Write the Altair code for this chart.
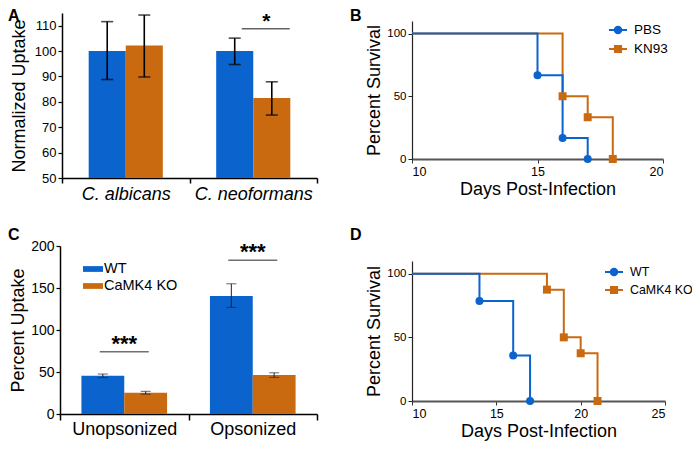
import altair as alt
import pandas as pd

FONT = "Liberation Sans"
BLUE = "#0B63CE"
ORANGE = "#C96A10"
W, H = 684, 433

# ---------------- Panel A: normalized uptake ----------------
a_species = ["C. albicans", "C. albicans", "C. neoformans", "C. neoformans"]
a_treat = ["PBS", "KN93", "PBS", "KN93"]
a_mean = [100.0, 102.2, 100.0, 81.5]
a_low = [88.8, 89.8, 94.7, 74.8]
a_high = [111.6, 114.2, 105.1, 87.9]
a_sig_species = ["C. neoformans"]
a_sig_y = [108.8]
a_sig_text = ["*"]

# ---------------- Panel B: survival, PBS vs KN93 ----------------
b_pbs_day = [10, 15, 16, 17]
b_pbs_surv = [100, 66.7, 16.7, 0]
b_kn_day = [10, 16, 17, 18]
b_kn_surv = [100, 50, 33.3, 0]

# ---------------- Panel C: percent uptake ----------------
c_cond = ["Unopsonized", "Unopsonized", "Opsonized", "Opsonized"]
c_geno = ["WT", "CaMK4 KO", "WT", "CaMK4 KO"]
c_mean = [45.5, 25.3, 140.5, 46.3]
c_low = [43.3, 23.6, 127.0, 43.6]
c_high = [47.6, 27.0, 155.0, 49.0]
c_sig_cond = ["Unopsonized", "Opsonized"]
c_sig_y = [74.0, 183.0]
c_sig_text = ["***", "***"]

# ---------------- Panel D: survival, WT vs CaMK4 KO ----------------
d_wt_day = [10, 14, 16, 17]
d_wt_surv = [100, 78.6, 35.7, 0]
d_ko_day = [10, 18, 19, 20, 21]
d_ko_surv = [100, 87.5, 50, 37.5, 0]

CIRC_LINE = "M-1,0H1M-0.36,0A0.36,0.36,0,1,1,0.36,0A0.36,0.36,0,1,1,-0.36,0Z"
SQ_LINE = "M-1,0H1M-0.34,-0.34H0.34V0.34H-0.34Z"
RECT = "M-1.25,-0.36H1.25V0.36H-1.25Z"


def letter(t, x, y):
    return alt.Chart(pd.DataFrame({"t": [t]})).mark_text(
        align="left", baseline="top", fontSize=16, fontWeight="bold", font=FONT, color="black"
    ).encode(text="t:N", x=alt.value(x), y=alt.value(y))


def survival_panel(df, groups, colors, shapes, sx, ax, sy, ay, leg, label, lx, ly):
    X = alt.X("day:Q", scale=sx, axis=ax)
    Y = alt.Y("surv:Q", scale=sy, axis=ay)
    layers = []
    # draw the second group first so the first one sits on top (as in the reference)
    for g, c in reversed(list(zip(groups, colors))):
        layers.append(alt.Chart(df).transform_filter(f"datum.group == '{g}'").mark_line(
            interpolate="step-after", strokeWidth=2, color=c).encode(x=X, y=Y))
    for g, c, s in zip(groups, colors, shapes):
        layers.append(alt.Chart(df).transform_filter(
            f"datum.day > 10 && datum.group == '{g}'").mark_point(
            filled=True, size=64, opacity=1, shape=s, color=c).encode(x=X, y=Y))
    key = alt.Chart(df).transform_filter("datum.day > 10").mark_point(filled=True, opacity=0, size=1).encode(
        x=X, y=Y,
        fill=alt.Fill("group:N", scale=alt.Scale(domain=groups, range=colors), legend=leg),
        stroke=alt.Stroke("group:N", scale=alt.Scale(domain=groups, range=colors), legend=leg),
        shape=alt.Shape("group:N", scale=alt.Scale(domain=groups, range=[CIRC_LINE, SQ_LINE]), legend=leg))
    return alt.layer(*layers, key, letter(label, lx, ly))


# ======== Panel A ========
dfA = pd.DataFrame({"species": a_species, "treat": a_treat, "mean": a_mean,
                    "low": a_low, "high": a_high})
sigA = pd.DataFrame({"species": a_sig_species, "y": a_sig_y, "t": a_sig_text})
sxA = alt.Scale(domain=["C. albicans", "C. neoformans"], range=[54, 309], paddingInner=0, paddingOuter=0)
axA = alt.Axis(orient="bottom", offset=-(H - 170), tickBand="extent", labelFontStyle="italic",
               labelFontSize=18, labelAngle=0, tickSize=5, labelPadding=2, title=None,
               domainColor="black", tickColor="black", labelColor="black", domainWidth=1.5,
               tickWidth=1.5, grid=False)
soA = alt.Scale(domain=["PBS", "KN93"], paddingInner=0, paddingOuter=0.72)
syA = alt.Scale(domain=[50, 115], range=[170, 5], zero=False, nice=False)
ayA = alt.Axis(orient="left", offset=-54, values=[50, 60, 70, 80, 90, 100, 110], title="Normalized Uptake",
               titleFontSize=18, titleFontWeight="normal", titleColor="black", labelFontSize=13,
               labelColor="black", tickSize=4, labelPadding=2, titlePadding=6, domainColor="black",
               tickColor="black", domainWidth=1.5, tickWidth=1.2, grid=False)

XA = alt.X("species:N", scale=sxA, axis=axA)
XOA = alt.XOffset("treat:N", scale=soA)
baseA = alt.Chart(dfA)
barsA = baseA.mark_bar().encode(
    x=XA, xOffset=XOA, y=alt.Y("mean:Q", scale=syA, axis=ayA), y2=alt.datum(50),
    color=alt.Color("treat:N", scale=alt.Scale(domain=["PBS", "KN93"], range=[BLUE, ORANGE]), legend=None))
errA = baseA.mark_rule(color="black", strokeWidth=1.6).encode(
    x=XA, xOffset=XOA, y=alt.Y("low:Q", scale=syA, axis=ayA), y2="high:Q")
capHA = baseA.mark_tick(color="black", size=12, thickness=1.6).encode(
    x=XA, xOffset=XOA, y=alt.Y("high:Q", scale=syA, axis=ayA))
capLA = baseA.mark_tick(color="black", size=12, thickness=1.6).encode(
    x=XA, xOffset=XOA, y=alt.Y("low:Q", scale=syA, axis=ayA))
lineA = alt.Chart(sigA).mark_tick(color="#222", size=48, thickness=1.4, xOffset=12.5).encode(
    x=XA, y=alt.Y("y:Q", scale=syA, axis=ayA))
starA = alt.Chart(sigA).mark_text(fontSize=21, fontWeight="bold", baseline="alphabetic", dx=13, dy=-1,
                                  font=FONT, color="black").encode(
    x=XA, y=alt.Y("y:Q", scale=syA, axis=ayA), text="t:N")
panelA = alt.layer(barsA, errA, capHA, capLA, lineA, starA, letter("A", 0, 0))

# ======== Panel B ========
dfB = pd.DataFrame({
    "day": b_pbs_day + b_kn_day,
    "surv": b_pbs_surv + b_kn_surv,
    "group": ["PBS"] * len(b_pbs_day) + ["KN93"] * len(b_kn_day),
})
sxB = alt.Scale(domain=[10, 20], range=[404, 655], nice=False, zero=False)
axB = alt.Axis(orient="bottom", offset=-(H - 151), values=[10, 15, 20], title="Days Post-Infection",
               titleFontSize=18, titleFontWeight="normal", titleColor="black", labelFontSize=12.5,
               labelColor="black", tickSize=4, labelPadding=2, titlePadding=3, domainColor="#555",
               domainWidth=2, tickColor="#333", grid=False)
syB = alt.Scale(domain=[0, 110], range=[151, 13], nice=False, zero=False)
ayB = alt.Axis(orient="left", offset=-404, values=[0, 50, 100], title="Percent Survival",
               titleFontSize=18, titleFontWeight="normal", titleColor="black", labelFontSize=11.5,
               labelColor="black", tickSize=4, labelPadding=2, titlePadding=3, domainColor="#222",
               domainWidth=1.2, tickColor="#222", grid=False)
legB = alt.Legend(orient="none", legendX=600, legendY=12, title=None, direction="vertical",
                  symbolSize=324, symbolStrokeWidth=2, symbolOpacity=1, labelFontSize=13.5, labelOffset=6,
                  rowPadding=1, padding=0, labelColor="black", labelFont=FONT)
panelB = survival_panel(dfB, ["PBS", "KN93"], [BLUE, ORANGE], ["circle", "square"],
                        sxB, axB, syB, ayB, legB, "B", 342, 0)

# ======== Panel C ========
dfC = pd.DataFrame({"cond": c_cond, "geno": c_geno, "mean": c_mean, "low": c_low, "high": c_high})
sigC = pd.DataFrame({"cond": c_sig_cond, "y": c_sig_y, "t": c_sig_text})
sxC = alt.Scale(domain=["Unopsonized", "Opsonized"], range=[52, 309], paddingInner=0, paddingOuter=0)
axC = alt.Axis(orient="bottom", offset=-(H - 406), tickBand="extent", labelFontSize=18, labelAngle=0,
               tickSize=6, labelPadding=0, title=None, domainColor="black", tickColor="black",
               labelColor="black", domainWidth=1.5, tickWidth=1.5, grid=False)
soC = alt.Scale(domain=["WT", "CaMK4 KO"], paddingInner=0, paddingOuter=0.5)
syC = alt.Scale(domain=[0, 200], range=[406, 238], nice=False)
ayC = alt.Axis(orient="left", offset=-52, values=[0, 50, 100, 150, 200], title="Percent Uptake",
               titleFontSize=18, titleFontWeight="normal", titleColor="black", labelFontSize=14,
               labelColor="black", tickSize=4, labelPadding=2, titlePadding=3, domainColor="black",
               tickColor="black", domainWidth=1.5, tickWidth=1.2, grid=False)
XC = alt.X("cond:N", scale=sxC, axis=axC)
XOC = alt.XOffset("geno:N", scale=soC)
legC = alt.Legend(orient="none", legendX=77, legendY=253, title=None, direction="vertical",
                  symbolType=RECT, symbolSize=256, symbolStrokeWidth=0, labelFontSize=14.5,
                  labelOffset=3, rowPadding=2, padding=0, labelColor="black", labelFont=FONT)
baseC = alt.Chart(dfC)
barsC = baseC.mark_bar().encode(
    x=XC, xOffset=XOC, y=alt.Y("mean:Q", scale=syC, axis=ayC), y2=alt.datum(0),
    color=alt.Color("geno:N", scale=alt.Scale(domain=["WT", "CaMK4 KO"], range=[BLUE, ORANGE]), legend=legC))
errC = baseC.mark_rule(color="#222", strokeWidth=1).encode(
    x=XC, xOffset=XOC, y=alt.Y("low:Q", scale=syC, axis=ayC), y2="high:Q")
capHC = baseC.mark_tick(color="#222", size=10, thickness=1).encode(
    x=XC, xOffset=XOC, y=alt.Y("high:Q", scale=syC, axis=ayC))
capLC = baseC.mark_tick(color="#222", size=10, thickness=1).encode(
    x=XC, xOffset=XOC, y=alt.Y("low:Q", scale=syC, axis=ayC))
lineC = alt.Chart(sigC).mark_tick(color="#333", size=49, thickness=1.5).encode(
    x=XC, y=alt.Y("y:Q", scale=syC, axis=ayC))
starC = alt.Chart(sigC).mark_text(fontSize=22, fontWeight="bold", baseline="alphabetic", dy=-1,
                                  font=FONT, color="black").encode(
    x=XC, y=alt.Y("y:Q", scale=syC, axis=ayC), text="t:N")
panelC = alt.layer(barsC, errC, capHC, capLC, lineC, starC, letter("C", 0, 219))

# ======== Panel D ========
dfD = pd.DataFrame({
    "day": d_wt_day + d_ko_day,
    "surv": d_wt_surv + d_ko_surv,
    "group": ["WT"] * len(d_wt_day) + ["CaMK4 KO"] * len(d_ko_day),
})
sxD = alt.Scale(domain=[10, 25], range=[404, 657], nice=False, zero=False)
axD = alt.Axis(orient="bottom", offset=-(H - 393), values=[10, 15, 20, 25], title="Days Post-Infection",
               titleFontSize=18, titleFontWeight="normal", titleColor="black", labelFontSize=12.5,
               labelColor="black", tickSize=4, labelPadding=2, titlePadding=3, domainColor="#555",
               domainWidth=2, tickColor="#333", grid=False)
syD = alt.Scale(domain=[0, 110], range=[393, 253], nice=False, zero=False)
ayD = alt.Axis(orient="left", offset=-404, values=[0, 50, 100], title="Percent Survival",
               titleFontSize=18, titleFontWeight="normal", titleColor="black", labelFontSize=11.5,
               labelColor="black", tickSize=4, labelPadding=2, titlePadding=3, domainColor="#222",
               domainWidth=1.2, tickColor="#222", grid=False)
legD = alt.Legend(orient="none", legendX=596, legendY=254, title=None, direction="vertical",
                  symbolSize=324, symbolStrokeWidth=2, symbolOpacity=1, labelFontSize=12.4, labelOffset=6,
                  rowPadding=0, padding=0, labelColor="black", labelFont=FONT)
panelD = survival_panel(dfD, ["WT", "CaMK4 KO"], [BLUE, ORANGE], ["circle", "square"],
                        sxD, axD, syD, ayD, legD, "D", 342, 219)

chart = alt.layer(panelA, panelB, panelC, panelD).resolve_scale(
    x="independent", y="independent", color="independent", xOffset="independent",
    fill="independent", stroke="independent", shape="independent",
).resolve_axis(x="independent", y="independent").resolve_legend(
    color="independent", fill="independent", stroke="independent", shape="independent",
).properties(
    width=W, height=H, padding=0, autosize=alt.AutoSizeParams(type="none"), background="white"
).configure_view(strokeWidth=0).configure_axis(labelFont=FONT, titleFont=FONT).configure_text(font=FONT)

chart.save("out.html", embed_options={"renderer": "svg", "actions": False})
